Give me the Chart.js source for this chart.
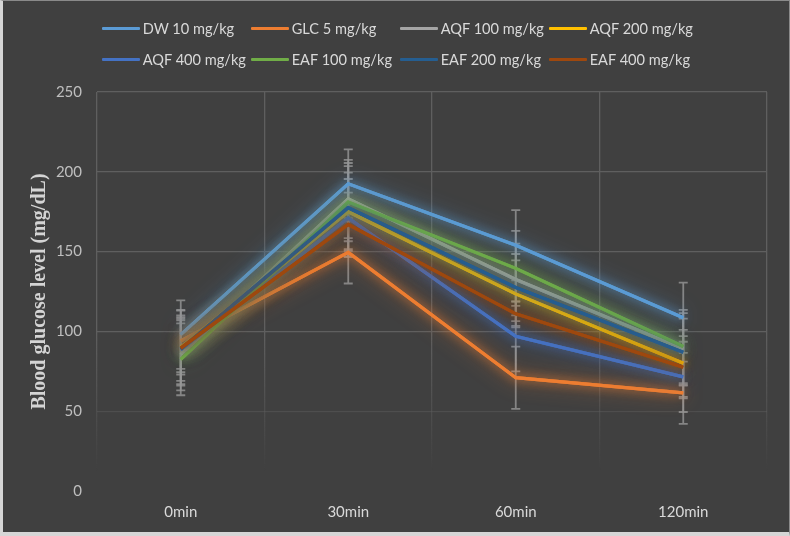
<!DOCTYPE html>
<html>
<head>
<meta charset="utf-8">
<script src="https://cdn.jsdelivr.net/npm/chart.js@4.4.1/dist/chart.umd.min.js"></script>
<style>
  html, body { margin: 0; padding: 0; background: #404040; }
  #wrap { position: relative; width: 790px; height: 536px; background: #404040; }
  #frame { position: absolute; inset: 0; box-sizing: border-box; pointer-events: none;
           border-left: 3px solid #d6d6d6; border-bottom: 4px solid #d6d6d6;
           border-top: 1px solid #8a8a8a; border-right: 1px solid #8a8a8a; }
  #legend { position: absolute; left: 101.7px; top: 17.3px; display: grid;
            grid-template-columns: repeat(4, 149px); row-gap: 9px;
            font: 14.6px Lato, sans-serif; color: #d9d9d9; }
  .item { display: flex; align-items: center; height: 22px; white-space: nowrap; }
  .swatch { width: 38px; height: 3px; margin-right: 3px; border-radius: 1px; }
</style>
</head>
<body>
<div id="wrap">
  <canvas id="graph"></canvas>
  <div id="legend"></div>
  <div id="frame"></div>
</div>
<script>
const labels = ['0min', '30min', '60min', '120min'];

const seriesNames = ['DW 10 mg/kg', 'GLC 5 mg/kg', 'AQF 100 mg/kg', 'AQF 200 mg/kg',
                     'AQF 400 mg/kg', 'EAF 100 mg/kg', 'EAF 200 mg/kg', 'EAF 400 mg/kg'];
const seriesColors = ['#5B9BD5', '#ED7D31', '#A5A5A5', '#FFC000',
                      '#4472C4', '#70AD47', '#255E91', '#9E480E'];

// mean blood glucose (mg/dL) and error bar size, per time point
const dw10 = [98, 192.5, 154, 108.5];
const dw10Err = [21.5, 21.5, 22, 22];
const glc5 = [94, 149.5, 71, 61.5];
const glc5Err = [19.5, 19.5, 19.5, 19.5];
const aqf100 = [85.5, 183, 132.5, 89];
const aqf100Err = [22.5, 24.5, 22.5, 22.5];
const aqf200 = [90, 175, 123.5, 80];
const aqf200Err = [17, 24.5, 21, 21];
const aqf400 = [88.5, 171, 97, 71.5];
const aqf400Err = [21.5, 24.5, 22, 22];
const eaf100 = [82.5, 181, 139.5, 90.5];
const eaf100Err = [22.5, 24.5, 23.5, 23];
const eaf200 = [89, 177.5, 127.5, 87];
const eaf200Err = [20, 26, 21, 21];
const eaf400 = [89.5, 167, 111, 77.5];
const eaf400Err = [23.5, 20, 7.5, 19.5];

const means = [dw10, glc5, aqf100, aqf200, aqf400, eaf100, eaf200, eaf400];
const errs = [dw10Err, glc5Err, aqf100Err, aqf200Err, aqf400Err, eaf100Err, eaf200Err, eaf400Err];

function rgba(hex, a) {
    const n = parseInt(hex.slice(1), 16);
    return `rgba(${n >> 16}, ${(n >> 8) & 255}, ${n & 255}, ${a})`;
}

// legend
const legend = document.getElementById('legend');
seriesNames.forEach((name, i) => {
    const item = document.createElement('div');
    item.className = 'item';
    item.innerHTML = `<span class="swatch" style="background:${seriesColors[i]}"></span>${name}`;
    legend.appendChild(item);
});

// soft glow around each line (drawn an extra time with a wide shadow)
const glow = {
    id: 'glow',
    beforeDatasetDraw(chart, args) {
        const ctx = chart.ctx;
        ctx.save();
        ctx.shadowColor = rgba(seriesColors[args.index], 0.9);
        ctx.shadowBlur = 20;
        args.meta.dataset.draw(ctx, chart.chartArea);
        ctx.shadowBlur = 10;
    },
    afterDatasetDraw(chart) {
        chart.ctx.restore();
    }
};

const errorBars = {
    id: 'errorBars',
    beforeDatasetsDraw(chart) {
        const {ctx, scales: {x, y}} = chart;
        ctx.save();
        ctx.strokeStyle = 'rgba(150, 150, 150, 0.8)';
        ctx.lineWidth = 1.8;
        chart.data.datasets.forEach((ds) => {
            ds.data.forEach((v, i) => {
                const px = x.getPixelForValue(i);
                const top = y.getPixelForValue(v + ds.errors[i]);
                const bot = y.getPixelForValue(v - ds.errors[i]);
                ctx.beginPath();
                ctx.moveTo(px, top); ctx.lineTo(px, bot);
                ctx.moveTo(px - 4.5, top); ctx.lineTo(px + 4.5, top);
                ctx.moveTo(px - 4.5, bot); ctx.lineTo(px + 4.5, bot);
                ctx.stroke();
            });
        });
        ctx.restore();
    }
};

function fadeGrid(context) {
    const area = context.chart.chartArea;
    if (!area) return '#5a5a5a';
    const g = context.chart.ctx.createLinearGradient(0, area.top, 0, area.bottom);
    g.addColorStop(0, 'rgba(95, 95, 95, 1)');
    g.addColorStop(0.6, 'rgba(95, 95, 95, 1)');
    g.addColorStop(0.8, 'rgba(95, 95, 95, 0.45)');
    g.addColorStop(0.95, 'rgba(95, 95, 95, 0)');
    g.addColorStop(1, 'rgba(95, 95, 95, 0)');
    return g;
}

const datasets = means.map((data, i) => ({
    label: seriesNames[i],
    data: data,
    errors: errs[i],
    borderColor: seriesColors[i],
    backgroundColor: seriesColors[i],
    borderWidth: 3.2,
    pointRadius: 0,
    tension: 0,
    order: means.length - i
}));

const chart = new Chart(document.getElementById('graph'), {
    type: 'line',
    data: {labels: labels, datasets: datasets},
    plugins: [errorBars, glow],
    options: {
        responsive: true,
        maintainAspectRatio: false,
        animation: false,
        layout: {padding: {top: 92, right: 23, left: 0, bottom: 0}},
        plugins: {legend: {display: false}, tooltip: {enabled: false}},
        scales: {
            x: {
                offset: true,
                grid: {offset: true, color: fadeGrid, lineWidth: 1.3, drawTicks: false},
                border: {display: false},
                ticks: {color: '#d9d9d9', font: {family: 'Lato', size: 15}, padding: 12},
                afterFit: (scale) => { scale.height = 45; }
            },
            y: {
                min: 0,
                max: 250,
                ticks: {stepSize: 50, color: '#bfbfbf', font: {family: 'Lato', size: 15}, padding: 15},
                grid: {
                    drawTicks: false,
                    lineWidth: 1.3,
                    color: (c) => c.tick.value === 0 ? 'rgba(95,95,95,0)' :
                                  c.tick.value === 50 ? 'rgba(95,95,95,0.45)' : 'rgba(95,95,95,1)'
                },
                border: {display: false},
                title: {
                    display: true,
                    text: 'Blood glucose level (mg/dL)',
                    color: '#d4d4d4',
                    font: {family: 'Liberation Serif', size: 20, weight: 'bold'},
                    padding: {top: 28, bottom: 0}
                },
                afterFit: (scale) => { scale.width = 97; }
            }
        }
    }
});
</script>
</body>
</html>
